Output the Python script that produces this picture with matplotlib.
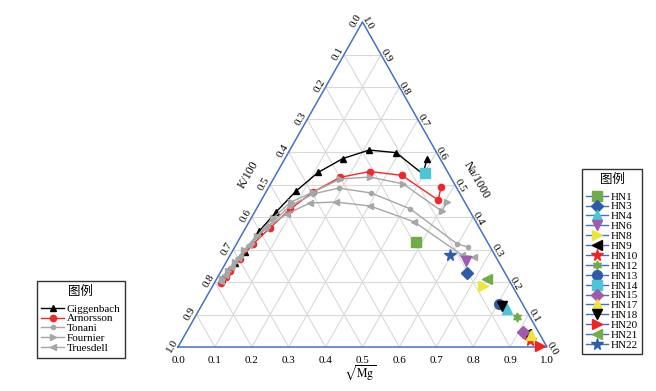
import numpy as np
import matplotlib.pyplot as plt
from matplotlib.lines import Line2D

plt.rcParams['font.family'] = ['Liberation Serif', 'Noto Sans CJK SC']
plt.rcParams['mathtext.fontset'] = 'stix'

# =========================
# Données (fractions Na/1000, K/100, sqrt(Mg))
# =========================

gig_na = [0.209, 0.234, 0.258, 0.292, 0.357, 0.415, 0.480, 0.537, 0.580, 0.606, 0.598, 0.532, 0.580]
gig_k = [0.777, 0.747, 0.717, 0.672, 0.601, 0.527, 0.440, 0.352, 0.263, 0.179, 0.110, 0.070, 0.035]
gig_mg = [0.014, 0.019, 0.025, 0.036, 0.042, 0.058, 0.080, 0.111, 0.157, 0.215, 0.292, 0.398, 0.385]

arn_na = [0.197, 0.215, 0.234, 0.271, 0.317, 0.366, 0.425, 0.477, 0.522, 0.540, 0.528, 0.452, 0.492]
arn_k = [0.784, 0.763, 0.742, 0.696, 0.638, 0.568, 0.483, 0.395, 0.300, 0.210, 0.129, 0.069, 0.041]
arn_mg = [0.019, 0.022, 0.024, 0.033, 0.045, 0.066, 0.092, 0.128, 0.178, 0.250, 0.343, 0.479, 0.467]

ton_na = [0.203, 0.228, 0.249, 0.280, 0.320, 0.372, 0.434, 0.471, 0.489, 0.474, 0.425, 0.317, 0.308]
ton_k = [0.782, 0.753, 0.727, 0.689, 0.639, 0.570, 0.479, 0.398, 0.320, 0.240, 0.158, 0.085, 0.060]
ton_mg = [0.015, 0.019, 0.024, 0.031, 0.041, 0.058, 0.087, 0.131, 0.191, 0.286, 0.417, 0.598, 0.632]

fou_na = [0.209, 0.234, 0.262, 0.298, 0.342, 0.397, 0.446, 0.477, 0.517, 0.523, 0.502, 0.418, 0.446]
fou_k = [0.777, 0.747, 0.715, 0.672, 0.615, 0.544, 0.471, 0.395, 0.302, 0.219, 0.139, 0.076, 0.048]
fou_mg = [0.014, 0.019, 0.023, 0.030, 0.043, 0.059, 0.083, 0.128, 0.181, 0.258, 0.359, 0.506, 0.506]

tru_na = [0.203, 0.222, 0.246, 0.274, 0.314, 0.366, 0.409, 0.443, 0.446, 0.434, 0.385, 0.283, 0.277]
tru_k = [0.782, 0.762, 0.733, 0.700, 0.651, 0.581, 0.501, 0.421, 0.349, 0.263, 0.167, 0.089, 0.059]
tru_mg = [0.015, 0.016, 0.021, 0.026, 0.035, 0.053, 0.090, 0.136, 0.205, 0.303, 0.448, 0.628, 0.664]

samples = ['HN1', 'HN3', 'HN4', 'HN6', 'HN8', 'HN9', 'HN10', 'HN12',
           'HN13', 'HN14', 'HN15', 'HN17', 'HN18', 'HN20', 'HN21', 'HN22']
sample_na = [0.324, 0.227, 0.117, 0.266, 0.188, 0.040, 0.022, 0.093,
             0.132, 0.536, 0.047, 0.037, 0.126, 0.003, 0.210, 0.283]
sample_k = [0.194, 0.102, 0.050, 0.087, 0.080, 0.036, 0.035, 0.036,
            0.064, 0.063, 0.042, 0.024, 0.060, 0.018, 0.058, 0.122]
sample_mg = [0.482, 0.671, 0.833, 0.647, 0.732, 0.924, 0.943, 0.871,
             0.804, 0.401, 0.911, 0.939, 0.814, 0.979, 0.732, 0.595]

# =========================
# Styles
# =========================

curve_styles = [
    ('Giggenbach', gig_na, gig_k, gig_mg, 'black', '^', 4.5),
    ('Arnorsson', arn_na, arn_k, arn_mg, '#F02828', 'o', 4.5),
    ('Tonani', ton_na, ton_k, ton_mg, '#A6A6A6', 'o', 3),
    ('Fournier', fou_na, fou_k, fou_mg, '#A6A6A6', '>', 4.5),
    ('Truesdell', tru_na, tru_k, tru_mg, '#A6A6A6', '<', 4.5),
]

sample_styles = {
    'HN1': ('s', '#70AD47'), 'HN3': ('D', '#2F5CA8'), 'HN4': ('^', '#4BC6D3'),
    'HN6': ('v', '#A25AB0'), 'HN8': ('>', '#EDE53A'), 'HN9': ('<', 'black'),
    'HN10': ('*', '#F52020'), 'HN12': ((6, 1, 0), '#70AD47'), 'HN13': ('o', '#2F5CA8'),
    'HN14': ('s', '#4BC6D3'), 'HN15': ('D', '#A25AB0'), 'HN17': ('^', '#EDE53A'),
    'HN18': ('v', 'black'), 'HN20': ('>', '#F52020'), 'HN21': ('<', '#70AD47'),
    'HN22': ('*', '#2F5CA8'),
}
sample_sizes = {'D': 6, '*': 8.5, (6, 1, 0): 6.5}


def tern(na, k, mg):
    na, k, mg = np.asarray(na, float), np.asarray(k, float), np.asarray(mg, float)
    s = na + k + mg
    return (mg + na / 2) / s, na / s


# =========================
# Figure
# =========================

fig = plt.figure(figsize=(6.56, 3.91), dpi=100)
ax = fig.add_axes([0, 0, 1, 1])
ax.set_xlim(-178 / 369, (656 - 178) / 369)
ax.set_ylim(-44 / 325, 347 / 325)
ax.axis('off')

grid_col = '#D9D9D9'
for v in np.arange(0.1, 1.0, 0.1):
    ax.plot([v / 2, 1 - v / 2], [v, v], color=grid_col, lw=0.8, zorder=1)
    ax.plot([v, v + (1 - v) / 2], [0, 1 - v], color=grid_col, lw=0.8, zorder=1)
    ax.plot([1 - v, (1 - v) / 2], [0, 1 - v], color=grid_col, lw=0.8, zorder=1)

ax.plot([0, 1, 0.5, 0], [0, 0, 1, 0], color='#4472C4', lw=1.1, zorder=2)

# graduations
tick_fs = 8
for i in range(11):
    v = i / 10
    lab = f"{v:.1f}"
    ax.annotate(lab, (v, 0), xytext=(0, -9.4), textcoords='offset points',
                ha='center', va='center', fontsize=tick_fs)
    ax.annotate(lab, (1 - v / 2, v), xytext=(3.8, -1.2), textcoords='offset points',
                ha='center', va='center', rotation=-60, fontsize=tick_fs)
    ax.annotate(lab, ((1 - v) / 2, 1 - v), xytext=(-4.4, 0.6), textcoords='offset points',
                ha='center', va='center', rotation=60, fontsize=tick_fs)

ax.text(0.19, 0.529, 'K/100', rotation=60, ha='center', va='center', fontsize=8.5)
ax.text(0.81, 0.514, 'Na/1000', rotation=-60, ha='center', va='center', fontsize=8.5)
ax.text(0.493, -0.08, r'$\sqrt{\mathrm{Mg}}$', ha='center', va='center', fontsize=8.5)

# courbes d'équilibre
curve_handles = []
for name, na, k, mg, col, mk, ms in curve_styles:
    x, y = tern(na, k, mg)
    h, = ax.plot(x, y, color=col, lw=1.0, marker=mk, ms=ms, mec=col, mfc=col,
                 label=name, zorder=3)
    curve_handles.append(h)

# échantillons
xs, ys = tern(sample_na, sample_k, sample_mg)
sample_handles = []
for name, x, y in zip(samples, xs, ys):
    mk, col = sample_styles[name]
    ms = sample_sizes.get(mk, 7)
    ax.plot(x, y, ls='none', marker=mk, ms=ms, color=col, mec=col, zorder=4)
    sample_handles.append(Line2D([], [], color='#4472C4', lw=1.0, marker=mk,
                                 ms=ms, mfc=col, mec=col, label=name))

leg_kw = dict(frameon=True, fancybox=False, edgecolor='black', fontsize=8,
              title='图例', title_fontsize=9, labelspacing=0.01,
              borderpad=0.4, handletextpad=0.25, borderaxespad=0)

leg1 = fig.legend(handles=curve_handles, loc='upper left',
                  bbox_to_anchor=(37 / 656, 1 - 281 / 391), handlelength=2.0, **leg_kw)
leg2 = fig.legend(handles=sample_handles, loc='upper left',
                  bbox_to_anchor=(582 / 656, 1 - 169 / 391), handlelength=1.9, **leg_kw)
for leg in (leg1, leg2):
    leg.get_frame().set_linewidth(1.0)
    leg._legend_box.sep = 4.5   # écart titre / entrées

fig.savefig('out.png', dpi=100)
